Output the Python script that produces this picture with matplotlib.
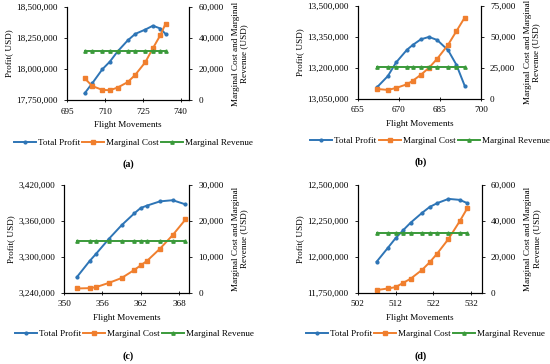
import matplotlib
matplotlib.use("Agg")
import matplotlib.pyplot as plt
from matplotlib.ticker import FuncFormatter

plt.rcParams["font.family"] = ["Liberation Serif", "DejaVu Serif"]

# (a)
flights_a = [702, 705, 709, 712, 715, 719, 722, 726, 729, 732, 734]
profit_a = [17804000, 17885000, 17998000, 18060000, 18141000, 18230000,
            18283000, 18318000, 18349000, 18326000, 18282000]
mc_a = [14000, 9000, 6500, 6300, 8000, 11500, 16200, 24400, 33400, 42000, 49200]
mr_a = [31300] * 11

# (b)
flights_b = [662, 666, 669, 673, 675, 678, 681, 684, 688, 691, 694]
profit_b = [13105000, 13160000, 13226000, 13288000, 13310000, 13338000,
            13350000, 13335000, 13285000, 13215000, 13114000]
mc_b = [7900, 7100, 8700, 11700, 14400, 19300, 25000, 32300, 43700, 54600, 65500]
mr_b = [25400] * 11

# (c)
flights_c = [352, 354, 355, 357, 359, 361, 362, 363, 365, 367, 369]
profit_c = [3266000, 3293000, 3305000, 3330000, 3353000, 3373000,
            3382000, 3386000, 3393000, 3395000, 3388000]
mc_c = [1180, 1270, 1550, 2730, 4090, 6360, 7640, 8910, 12270, 16090, 20450]
mr_c = [14450] * 11

# (d)
flights_d = [507, 510, 512, 514, 516, 519, 521, 523, 526, 529, 531]
profit_d = [11966000, 12064000, 12130000, 12186000, 12239000, 12307000,
            12348000, 12375000, 12405000, 12398000, 12375000]
mc_d = [1450, 2360, 3090, 5450, 7820, 12730, 16910, 21820, 30000, 40000, 47270]
mr_d = [33270] * 11

W, H = 550, 364

# label, data, axes box, xlim, xticks, left ylim/step, right ylim/step, legend xy, label xy (pixels)
panels = [
    ("(a)", flights_a, profit_a, mc_a, mr_a, [0.1218, 0.7253, 0.2224, 0.2555],
     (695, 743.4), [695, 710, 725, 740], (17750000, 18500000), 250000, (0, 60000), 20000,
     (133.5, 143), (128, 164)),
    ("(b)", flights_b, profit_b, mc_b, mr_b, [0.6504, 0.7288, 0.2242, 0.2547],
     (655, 700), [655, 670, 685, 700], (13050000, 13500000), 150000, (0, 75000), 25000,
     (430, 141), (421, 162)),
    ("(c)", flights_c, profit_c, mc_c, mr_c, [0.1164, 0.1959, 0.2278, 0.2951],
     (350, 369.6), [350, 356, 362, 368], (3240000, 3420000), 60000, (0, 30000), 10000,
     (134.5, 334), (128, 356)),
    ("(d)", flights_d, profit_d, mc_d, mr_d, [0.6504, 0.1959, 0.2255, 0.2951],
     (502, 534.8), [502, 512, 522, 532], (11750000, 12500000), 250000, (0, 60000), 20000,
     (425.5, 334), (421, 356)),
]

blue = "#2E75B6"
orange = "#F07F2E"
green = "#3A9A3A"
fs = 6.6
comma = FuncFormatter(lambda v, p: f"{int(round(v)):,}")

fig = plt.figure(figsize=(W / 100, H / 100), dpi=100)

for (label, x, profit, mc, mr, pos, xlim, xticks, ylim, ystep, y2lim, y2step,
     leg_xy, lab_xy) in panels:
    ax = fig.add_axes(pos)
    ax2 = ax.twinx()
    l1, = ax.plot(x, profit, color=blue, lw=1.4, marker="o", ms=2.0, label="Total Profit")
    l2, = ax2.plot(x, mc, color=orange, lw=1.4, marker="s", ms=2.6, label="Marginal Cost")
    l3, = ax2.plot(x, mr, color=green, lw=1.4, marker="^", ms=2.4, label="Marginal Revenue")

    ax.set_xlim(*xlim)
    ax.set_xticks(xticks)
    ax.set_ylim(*ylim)
    ax.set_yticks(range(ylim[0], ylim[1] + 1, ystep))
    ax2.set_ylim(*y2lim)
    ax2.set_yticks(range(y2lim[0], y2lim[1] + 1, y2step))
    ax.yaxis.set_major_formatter(comma)
    ax2.yaxis.set_major_formatter(comma)

    for a in (ax, ax2):
        a.spines["top"].set_visible(False)
        for s in a.spines.values():
            s.set_linewidth(0.8)
        a.tick_params(labelsize=fs, length=2.5, width=0.6, pad=4)
    ax.tick_params(axis="x", direction="inout", length=3, pad=4)

    ax.set_xlabel("Flight Movements", fontsize=fs, labelpad=4)
    ax.set_ylabel("Profit( USD)", fontsize=fs, labelpad=2)
    ax2.set_ylabel("Marginal Cost and Marginal\nRevenue (USD)", fontsize=fs,
                   labelpad=6, linespacing=1.1)

    fig.legend(handles=[l1, l2, l3], loc="center",
               bbox_to_anchor=(leg_xy[0] / W, 1 - leg_xy[1] / H),
               ncol=3, frameon=False, fontsize=fs, handlelength=2.4,
               handletextpad=0.2, columnspacing=0.25, borderpad=0, borderaxespad=0)
    fig.text(lab_xy[0] / W, 1 - lab_xy[1] / H, label, ha="center", va="center",
             fontsize=fs + 0.6, fontweight="bold")

fig.savefig("out.png", dpi=100)
